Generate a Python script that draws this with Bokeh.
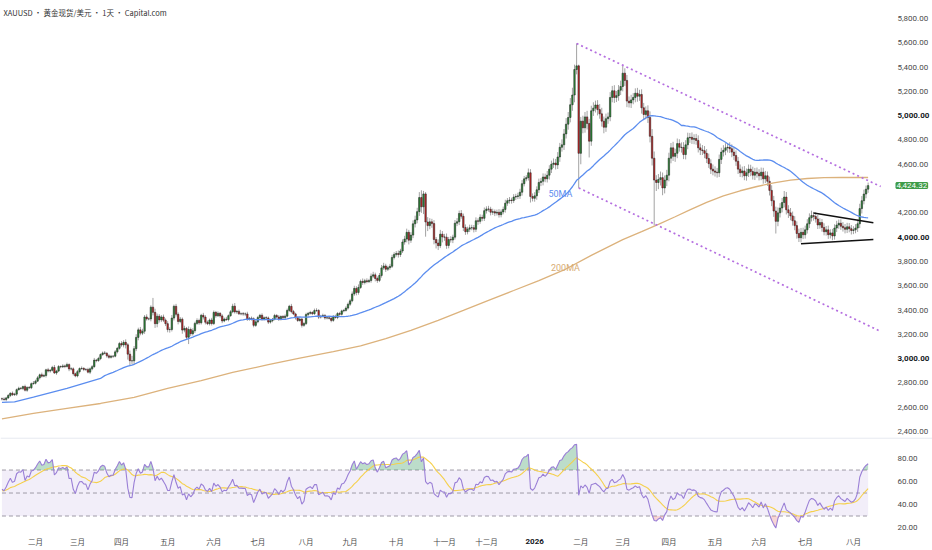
import numpy as np
from bokeh.plotting import figure
from bokeh.layouts import column
from bokeh.models import Range1d, Label, ColumnDataSource, Span
from bokeh.core.properties import value
from bokeh.embed import file_html
from bokeh.resources import INLINE

# ---------------- data ----------------
# closes before the visible window, only used to start the RSI
warmup_closes = [2652, 2646, 2586, 2594, 2622, 2612, 2617, 2634, 2621, 2606, 2624, 2658, 2640, 2636, 2648, 2661, 2670]

c_2025_01 = [2668, 2663, 2677, 2697, 2715, 2703, 2708, 2745, 2756, 2755, 2770, 2740, 2763, 2760, 2794, 2798]
c_2025_02 = [2815, 2842, 2867, 2856, 2861, 2908, 2898, 2904, 2928, 2882, 2898, 2935, 2933, 2940, 2936, 2951, 2915, 2916, 2876, 2858]
c_2025_03 = [2893, 2918, 2920, 2911, 2910, 2889, 2916, 2934, 2988, 2984, 3001, 3034, 3047, 3044, 3023, 3011, 3020, 3020, 3056, 3085, 3124]
c_2025_04 = [3113, 3134, 3114, 3037, 2983, 2982, 3082, 3175, 3237, 3210, 3226, 3343, 3327, 3327, 3424, 3381, 3288, 3349, 3319, 3343, 3317, 3288]
c_2025_05 = [3239, 3240, 3334, 3431, 3365, 3306, 3325, 3235, 3249, 3176, 3240, 3205, 3230, 3290, 3314, 3295, 3357, 3342, 3300, 3288, 3318, 3289]
c_2025_06 = [3381, 3353, 3373, 3352, 3310, 3326, 3322, 3354, 3386, 3432, 3385, 3389, 3369, 3370, 3368, 3368, 3323, 3333, 3328, 3274, 3303]
c_2025_07 = [3338, 3357, 3326, 3337, 3335, 3301, 3313, 3325, 3355, 3343, 3324, 3347, 3338, 3350, 3397, 3431, 3387, 3368, 3337, 3314, 3326, 3274, 3289]
c_2025_08 = [3363, 3373, 3380, 3370, 3396, 3397, 3342, 3348, 3356, 3335, 3336, 3332, 3315, 3347, 3339, 3371, 3365, 3393, 3397, 3416, 3448]
c_2025_09 = [3476, 3533, 3578, 3545, 3586, 3636, 3627, 3641, 3634, 3643, 3679, 3690, 3660, 3644, 3685, 3747, 3763, 3736, 3749, 3760, 3833, 3858]
c_2025_10 = [3866, 3857, 3886, 3960, 3985, 4040, 3975, 4017, 4110, 4142, 4210, 4326, 4250, 4356, 4125, 4095, 4126, 4112, 3981, 3952, 3930, 4025, 4002]
c_2025_11 = [4000, 3932, 3980, 3977, 4000, 4115, 4127, 4195, 4172, 4080, 4045, 4066, 4077, 4078, 4065, 4135, 4130, 4163, 4155, 4218]
c_2025_12 = [4232, 4230, 4205, 4210, 4198, 4205, 4185, 4208, 4228, 4280, 4300, 4305, 4302, 4330, 4335, 4340, 4370, 4440, 4480, 4490, 4530, 4335, 4320]
c_2026_01 = [4340, 4390, 4450, 4460, 4495, 4480, 4510, 4560, 4600, 4610, 4595, 4660, 4740, 4760, 4850, 4930, 4985, 5090, 5170, 5380, 5410, 4690]
c_2026_02 = [4955, 4900, 4990, 4936, 4790, 5040, 5062, 5088, 5050, 5015, 4955, 4905, 4975, 4990, 5150, 5205, 5150, 5165, 5210, 5240]
c_2026_03 = [5350, 5290, 5120, 5105, 5130, 5150, 5185, 5160, 5175, 5065, 5010, 5040, 4985, 4830, 4650, 4470, 4450, 4475, 4490, 4405, 4470, 4510]
c_2026_04 = [4650, 4735, 4665, 4690, 4770, 4740, 4738, 4680, 4760, 4818, 4822, 4805, 4812, 4796, 4735, 4718, 4712, 4690, 4648, 4605, 4560, 4545]
c_2026_05 = [4535, 4530, 4640, 4700, 4715, 4735, 4740, 4728, 4700, 4672, 4625, 4560, 4530, 4545, 4505, 4530, 4560, 4540, 4510, 4535, 4525]
c_2026_06 = [4505, 4535, 4480, 4505, 4460, 4385, 4300, 4215, 4130, 4200, 4240, 4285, 4330, 4225, 4200, 4175, 4135, 4095, 4030, 3995, 4040, 4020]
c_2026_07 = [4060, 4110, 4160, 4178, 4170, 4150, 4100, 4120, 4080, 4045, 4060, 4020, 4035, 4010, 4075, 4100, 4115, 4090, 4078, 4065, 4085, 4070, 4055]
c_2026_08 = [4060, 4075, 4110, 4235, 4300, 4355, 4395, 4424.32]

# upper / lower wick lengths beyond the candle body (USD)
wu_2025_01 = [10, 14, 9, 12, 8, 15, 11, 9, 13, 10, 8, 16, 9, 12, 10, 18]
wd_2025_01 = [12, 9, 14, 8, 13, 10, 9, 15, 8, 12, 14, 10, 13, 9, 11, 8]
wu_2025_02 = [12, 15, 10, 18, 14, 9, 16, 11, 13, 20, 10, 12, 9, 14, 11, 16, 10, 13, 12, 9]
wd_2025_02 = [10, 8, 14, 12, 9, 16, 11, 13, 10, 8, 15, 9, 12, 10, 14, 9, 18, 12, 15, 11]
wu_2025_03 = [14, 10, 16, 9, 12, 15, 11, 13, 18, 10, 14, 9, 12, 16, 10, 13, 11, 9, 15, 12, 14]
wd_2025_03 = [12, 15, 9, 14, 11, 10, 16, 12, 9, 14, 10, 13, 11, 9, 15, 12, 10, 14, 9, 13, 11]
wu_2025_04 = [20, 18, 25, 14, 30, 40, 22, 26, 18, 24, 20, 16, 22, 12, 15, 76, 30, 22, 18, 16, 20, 14]
wd_2025_04 = [15, 20, 30, 45, 40, 28, 35, 20, 24, 18, 16, 22, 14, 12, 20, 25, 35, 30, 22, 18, 16, 20]
wu_2025_05 = [20, 18, 25, 14, 20, 16, 18, 14, 22, 12, 25, 16, 20, 14, 18, 15, 12, 20, 16, 14, 12, 18]
wd_2025_05 = [22, 25, 16, 20, 18, 24, 14, 30, 18, 20, 56, 20, 15, 18, 12, 16, 14, 20, 18, 12, 15, 16]
wu_2025_06 = [15, 12, 16, 10, 14, 12, 18, 10, 14, 20, 26, 12, 15, 10, 14, 12, 18, 10, 14, 12, 16]
wd_2025_06 = [12, 16, 10, 14, 18, 10, 12, 15, 10, 12, 14, 16, 10, 12, 15, 18, 12, 10, 14, 16, 12]
wu_2025_07 = [14, 12, 16, 10, 13, 12, 15, 10, 14, 12, 16, 10, 12, 14, 15, 12, 20, 14, 10, 12, 14, 10, 12]
wd_2025_07 = [12, 10, 14, 12, 10, 16, 12, 14, 10, 12, 14, 10, 12, 15, 10, 12, 14, 10, 16, 12, 10, 18, 12]
wu_2025_08 = [15, 12, 14, 10, 16, 18, 10, 12, 14, 10, 12, 14, 10, 12, 15, 12, 14, 10, 12, 15, 14]
wd_2025_08 = [12, 14, 10, 12, 10, 12, 16, 12, 10, 14, 12, 10, 16, 12, 10, 14, 12, 10, 12, 10, 12]
wu_2025_09 = [16, 20, 22, 18, 25, 15, 24, 16, 20, 14, 22, 25, 18, 16, 20, 24, 26, 18, 16, 20, 22, 18]
wd_2025_09 = [14, 12, 16, 24, 18, 12, 20, 16, 14, 12, 18, 16, 24, 20, 14, 18, 16, 22, 15, 18, 14, 16]
wu_2025_10 = [20, 24, 18, 22, 26, 30, 20, 24, 28, 35, 32, 45, 60, 25, 15, 40, 30, 25, 28, 20, 30, 35, 25]
wd_2025_10 = [18, 25, 20, 16, 22, 28, 35, 22, 25, 30, 28, 35, 50, 60, 121, 45, 30, 35, 40, 45, 36, 20, 45]
wu_2025_11 = [25, 30, 22, 28, 20, 26, 30, 24, 28, 22, 25, 20, 26, 24, 22, 28, 20, 25, 22, 26]
wd_2025_11 = [30, 28, 24, 22, 26, 20, 24, 28, 20, 30, 26, 22, 24, 20, 26, 22, 28, 20, 24, 22]
wu_2025_12 = [22, 26, 20, 24, 18, 22, 26, 20, 24, 28, 22, 25, 20, 24, 22, 26, 28, 30, 24, 20, 35, 30, 25]
wd_2025_12 = [24, 20, 26, 22, 25, 20, 24, 22, 20, 26, 22, 24, 26, 20, 24, 22, 25, 28, 22, 20, 24, 50, 26]
wu_2026_01 = [30, 28, 32, 26, 30, 28, 35, 32, 30, 38, 34, 40, 36, 45, 40, 50, 45, 55, 60, 40, 184, 10]
wd_2026_01 = [28, 32, 26, 30, 34, 28, 30, 36, 32, 30, 38, 34, 40, 36, 42, 38, 45, 40, 50, 60, 40, 285]
wu_2026_02 = [35, 45, 40, 50, 38, 42, 48, 36, 40, 45, 50, 38, 42, 36, 44, 40, 46, 38, 42, 48]
wd_2026_02 = [90, 45, 40, 50, 134, 38, 42, 36, 48, 40, 45, 50, 38, 42, 36, 40, 45, 38, 42, 40]
wu_2026_03 = [60, 40, 45, 38, 42, 36, 40, 44, 38, 42, 40, 36, 45, 50, 60, 55, 40, 45, 50, 42, 38, 44]
wd_2026_03 = [40, 45, 50, 38, 42, 36, 40, 45, 38, 48, 42, 40, 45, 50, 60, 374, 70, 55, 50, 60, 45, 50]
wu_2026_04 = [45, 40, 50, 38, 42, 36, 40, 44, 38, 42, 36, 40, 35, 38, 42, 36, 40, 38, 35, 40, 36, 38]
wd_2026_04 = [50, 42, 38, 45, 40, 36, 42, 38, 40, 36, 42, 38, 40, 35, 38, 42, 36, 40, 38, 35, 40, 36]
wu_2026_05 = [38, 35, 40, 36, 42, 38, 35, 40, 36, 38, 42, 35, 38, 36, 40, 35, 38, 36, 40, 35, 38]
wd_2026_05 = [36, 40, 35, 38, 36, 40, 38, 35, 42, 36, 38, 40, 35, 38, 36, 40, 35, 38, 36, 40, 35]
wu_2026_06 = [35, 38, 36, 40, 35, 38, 42, 40, 36, 45, 40, 38, 50, 42, 38, 40, 36, 38, 35, 40, 36, 38]
wd_2026_06 = [38, 36, 40, 35, 38, 42, 45, 48, 100, 40, 38, 36, 40, 38, 42, 36, 40, 38, 42, 35, 38, 36]
wu_2026_07 = [35, 38, 36, 40, 30, 35, 32, 36, 30, 34, 32, 35, 30, 33, 31, 35, 30, 32, 34, 30, 33, 31, 30]
wd_2026_07 = [32, 30, 35, 31, 34, 30, 33, 31, 35, 30, 32, 34, 31, 35, 30, 33, 31, 30, 32, 34, 31, 30, 33]
wu_2026_08 = [30, 32, 35, 40, 38, 36, 30, 25]
wd_2026_08 = [30, 28, 32, 35, 40, 30, 35, 30]

# moving-average values (bar index, price)
ma50_early_idx = [0, 6, 15, 31, 47]
ma50_early_val = [2640, 2644, 2683, 2755, 2837]
ma200_idx = [0, 15, 31, 47, 63, 79, 95, 110, 127, 142, 158, 171, 183, 195, 208, 220, 232, 244, 256, 268,
             281, 296, 305, 313, 321, 328, 336, 344, 352, 360, 368, 376, 384, 392, 400, 413]
ma200_val = [2505, 2549, 2590, 2631, 2681, 2755, 2820, 2887, 2950, 3005, 3058, 3105, 3165, 3232, 3315, 3397,
             3480, 3561, 3643, 3730, 3850, 3980, 4045, 4105, 4168, 4224, 4287, 4340, 4382, 4417, 4447, 4470,
             4483, 4490, 4492, 4491]

# drawn trend lines (bar index, price)
chan_up_idx, chan_up_val = [274, 419], [5594, 4417]
chan_lo_idx, chan_lo_val = [275, 419], [4405, 3224]
tri_up_idx, tri_up_val = [387, 415.5], [4198, 4119]
tri_lo_idx, tri_lo_val = [381, 415.5], [3945, 3981]

price_ticks = [2400, 2600, 2800, 3000, 3200, 3400, 3600, 3800, 4000, 4200, 4400, 4600, 4800, 5000, 5200, 5400, 5600, 5800]
bold_price_ticks = [3000, 4000, 5000]
rsi_ticks = [20, 40, 60, 80]
rsi_levels = [30, 50, 70]
month_idx = [16, 36, 57, 79, 101, 122, 145, 166, 188, 211, 231, 254, 276, 296, 318, 340, 361, 383, 406]
month_lbl = ["二月", "三月", "四月", "五月", "六月", "七月", "八月", "九月", "十月", "十一月", "十二月", "2026",
             "二月", "三月", "四月", "五月", "六月", "七月", "八月"]
title_text = "XAUUSD • 黄金现货/美元 • 1天 • Capital.com"

# ---------------- assemble ----------------
closes = (c_2025_01 + c_2025_02 + c_2025_03 + c_2025_04 + c_2025_05 + c_2025_06 + c_2025_07 + c_2025_08 +
          c_2025_09 + c_2025_10 + c_2025_11 + c_2025_12 + c_2026_01 + c_2026_02 + c_2026_03 + c_2026_04 +
          c_2026_05 + c_2026_06 + c_2026_07 + c_2026_08)
wick_up = (wu_2025_01 + wu_2025_02 + wu_2025_03 + wu_2025_04 + wu_2025_05 + wu_2025_06 + wu_2025_07 + wu_2025_08 +
           wu_2025_09 + wu_2025_10 + wu_2025_11 + wu_2025_12 + wu_2026_01 + wu_2026_02 + wu_2026_03 + wu_2026_04 +
           wu_2026_05 + wu_2026_06 + wu_2026_07 + wu_2026_08)
wick_dn = (wd_2025_01 + wd_2025_02 + wd_2025_03 + wd_2025_04 + wd_2025_05 + wd_2025_06 + wd_2025_07 + wd_2025_08 +
           wd_2025_09 + wd_2025_10 + wd_2025_11 + wd_2025_12 + wd_2026_01 + wd_2026_02 + wd_2026_03 + wd_2026_04 +
           wd_2026_05 + wd_2026_06 + wd_2026_07 + wd_2026_08)
n = len(closes)
idx = list(range(n))
opens = [warmup_closes[-1]] + closes[:-1]
tops = [max(o, c) for o, c in zip(opens, closes)]
bots = [min(o, c) for o, c in zip(opens, closes)]
highs = [t + w for t, w in zip(tops, wick_up)]
lows = [b - w for b, w in zip(bots, wick_dn)]
UP, DN = "#2f8f3a", "#c62828"
colors = [UP if c >= o else DN for o, c in zip(opens, closes)]
src = ColumnDataSource(dict(x=idx, top=tops, bottom=bots, high=highs, low=lows, color=colors))

carr = np.array(closes, dtype=float)
ma50_x = ma50_early_idx + list(range(49, n))
ma50_y = ma50_early_val + [float(carr[i - 49:i + 1].mean()) for i in range(49, n)]

# RSI(14), Wilder smoothing, and its 14-bar SMA
allc = np.array(warmup_closes + closes, dtype=float)
d = np.diff(allc)
g = np.clip(d, 0, None)
l = np.clip(-d, 0, None)
N = 14
ag, al = g[:N].mean(), l[:N].mean()
rsi_all = [np.nan] * N
rsi_all.append(100 - 100 / (1 + ag / al) if al > 0 else 100.0)
for k in range(N, len(d)):
    ag = (ag * (N - 1) + g[k]) / N
    al = (al * (N - 1) + l[k]) / N
    rsi_all.append(100 - 100 / (1 + ag / al) if al > 0 else 100.0)
rsi_all = np.array(rsi_all)
off = len(warmup_closes)
rsi = rsi_all[off:]
rsi_ma = []
for i in range(n):
    w = rsi_all[max(0, off + i - 13): off + i + 1]
    w = w[~np.isnan(w)]
    rsi_ma.append(float(w.mean()))

# ---------------- figures ----------------
W = 932
X0, X1 = -0.7, 443.7          # whole width incl. the price-scale strip
Y0, Y1 = 2351, 5948
R0, R1 = 0.0, 98.3
SCALE_X = 427.0               # where the price-scale texts start
XLBL_Y = 7.8                  # row of the time-scale texts inside the lower pane
AXF = value("Roboto")
CJK = value("Noto Sans CJK SC")
GREY = "#4a4a4a"
DARK = "#131722"

p1 = figure(width=W, height=437, x_range=Range1d(X0, X1), y_range=Range1d(Y0, Y1),
            x_axis_location=None, y_axis_location=None, output_backend="svg", toolbar_location=None,
            min_border=0)
p1.grid.visible = False
p1.outline_line_color = None
p1.background_fill_color = "white"
p1.border_fill_color = "white"

p1.segment(x0="x", y0="low", x1="x", y1="high", source=src, line_color="#a3a3a3", line_width=1)
p1.vbar(x="x", width=0.7, top="top", bottom="bottom", source=src, fill_color="color",
        line_color="#1c1c1c", line_width=0.5)

p1.line(ma200_idx, ma200_val, line_color="#dcb27c", line_width=1.3)
p1.line(ma50_x, ma50_y, line_color="#5b8def", line_width=1.3)

p1.line(chan_up_idx, chan_up_val, line_color="#b56fe0", line_width=1.7, line_dash="2 3")
p1.line(chan_lo_idx, chan_lo_val, line_color="#b56fe0", line_width=1.7, line_dash="2 3")
p1.line(tri_up_idx, tri_up_val, line_color="#111111", line_width=1.5)
p1.line(tri_lo_idx, tri_lo_val, line_color="#111111", line_width=1.5)

p1.add_layout(Label(x=266.3, y=4359, text="50MA", text_color="#5b8def", text_font="Roboto",
                    text_font_size="9px", text_align="center", text_baseline="middle"))
p1.add_layout(Label(x=268.7, y=3750, text="200MA", text_color="#d8ad74", text_font="Roboto",
                    text_font_size="9px", text_align="center", text_baseline="middle"))
p1.add_layout(Label(x=X0, y=Y1, x_offset=3, y_offset=-12, text=title_text, text_font="Noto Sans CJK SC",
                    text_font_size="7.5px", text_color="#333333", text_baseline="middle"))

# price scale
last = closes[-1]
reg = [v for v in price_ticks if v not in bold_price_ticks and abs(v - last) > 60]
p1.text(x=[SCALE_X] * len(reg), y=reg, text=[f"{v:,.2f}" for v in reg], text_font=AXF,
        text_font_size="8px", text_color=GREY, text_baseline="middle", text_align="left")
p1.text(x=[SCALE_X] * len(bold_price_ticks), y=bold_price_ticks,
        text=[f"{v:,.2f}" for v in bold_price_ticks], text_font=AXF, text_font_size="8px",
        text_font_style="bold", text_color=DARK, text_baseline="middle", text_align="left")
p1.add_layout(Label(x=SCALE_X, y=last, x_offset=-1, text=f"{last:,.2f}", text_font="Roboto",
                    text_font_size="8px", text_color="white", background_fill_color="#3f9c49",
                    border_line_color="#3f9c49", border_line_width=2,
                    text_baseline="middle", text_align="left"))

p2 = figure(width=W, height=113, x_range=p1.x_range, y_range=Range1d(R0, R1),
            x_axis_location=None, y_axis_location=None, output_backend="svg", toolbar_location=None,
            min_border=0)
p2.grid.visible = False
p2.outline_line_color = None
p2.background_fill_color = "white"
p2.border_fill_color = "white"
p2.add_layout(Span(location=R1 - 0.5, dimension="width", line_color="#e0e3eb", line_width=1))

p2.quad(left=[idx[0]], right=[idx[-1]], bottom=[rsi_levels[0]], top=[rsi_levels[2]],
        fill_color="#7e57c2", fill_alpha=0.1, line_color=None)
for lv in rsi_levels:
    p2.line([idx[0], idx[-1]], [lv, lv], line_color="#9e9aa6", line_width=1, line_dash="4 3")
p2.varea(x=idx, y1=[rsi_levels[2]] * n, y2=list(np.maximum(rsi, rsi_levels[2])),
         fill_color="#3f9f67", fill_alpha=0.35)
p2.varea(x=idx, y1=list(np.minimum(rsi, rsi_levels[0])), y2=[rsi_levels[0]] * n,
         fill_color="#e57373", fill_alpha=0.3)
p2.line(idx, list(rsi_ma), line_color="#f5d04c", line_width=1.1)
p2.line(idx, list(rsi), line_color="#9a7fd6", line_width=1.1)

p2.text(x=[SCALE_X] * len(rsi_ticks), y=rsi_ticks, text=[f"{v:.2f}" for v in rsi_ticks], text_font=AXF,
        text_font_size="8px", text_color=GREY, text_baseline="middle", text_align="left")

mt = [(t, s) for t, s in zip(month_idx, month_lbl) if not s.isdigit()]
yt = [(t, s) for t, s in zip(month_idx, month_lbl) if s.isdigit()]
p2.text(x=[t for t, s in mt], y=[XLBL_Y] * len(mt), text=[s for t, s in mt], text_font=CJK,
        text_font_size="7.5px", text_color=GREY, text_baseline="middle", text_align="center")
p2.text(x=[t for t, s in yt], y=[XLBL_Y] * len(yt), text=[s for t, s in yt], text_font=AXF,
        text_font_size="8px", text_font_style="bold", text_color=DARK, text_baseline="middle",
        text_align="center")

page = column(p1, p2)
open("out.html", "w").write(file_html(page, INLINE))
